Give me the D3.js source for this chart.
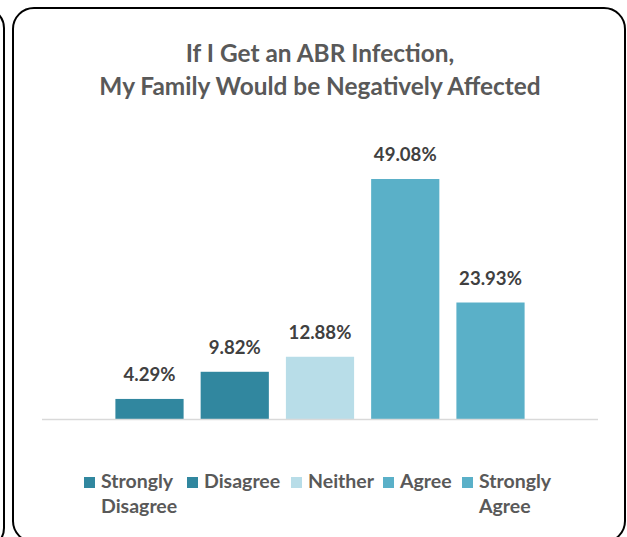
<!DOCTYPE html>
<html>
<head>
<meta charset="utf-8">
<script src="https://cdn.jsdelivr.net/npm/d3@7/dist/d3.min.js"></script>
<style>
  html, body { margin: 0; padding: 0; background: #ffffff; }
  svg { display: block; }
  text { font-family: Lato, "Carlito", "Liberation Sans", sans-serif; font-weight: 700; }
</style>
</head>
<body>
<script>
// Survey responses: "If I Get an ABR Infection, My Family Would be Negatively Affected"
const categories = ["Strongly Disagree", "Disagree", "Neither", "Agree", "Strongly Agree"];
const values = [4.29, 9.82, 12.88, 49.08, 23.93];
const legendLines = [["Strongly", "Disagree"], ["Disagree"], ["Neither"], ["Agree"], ["Strongly", "Agree"]];
const colors = ["#31879f", "#31879f", "#b8dde8", "#5ab0c8", "#5ab0c8"];
const titleLines = ["If I Get an ABR Infection,", "My Family Would be Negatively Affected"];

const W = 627, H = 537;
const svg = d3.select("body").append("svg").attr("width", W).attr("height", H);

// neighbouring panel edge on the left and this chart's rounded frame
svg.append("rect").attr("x", -600).attr("y", 8).attr("width", 604).attr("height", 540)
  .attr("rx", 20).attr("fill", "none").attr("stroke", "#000").attr("stroke-width", 2);
svg.append("rect").attr("x", 13).attr("y", 8).attr("width", 612).attr("height", 534)
  .attr("rx", 21).attr("fill", "#fff").attr("stroke", "#000").attr("stroke-width", 2);

// title
svg.append("g").selectAll("text").data(titleLines).join("text")
  .attr("x", 320).attr("y", (d, i) => 62 + i * 32.5)
  .attr("text-anchor", "middle").attr("fill", "#595959").attr("font-size", 24.4)
  .text(d => d);

// scales
const x = d3.scaleBand().domain(categories).range([42, 598])
  .paddingInner(0.2).paddingOuter(0.861);
const y = d3.scaleLinear().domain([0, 60]).range([420, 125.4]);

// bars
svg.append("g").selectAll("rect").data(values).join("rect")
  .attr("x", (d, i) => x(categories[i]))
  .attr("width", x.bandwidth())
  .attr("y", d => y(d))
  .attr("height", d => y(0) - y(d))
  .attr("fill", (d, i) => colors[i]);

// category axis line
const axis = d3.axisBottom(x).tickSize(0).tickFormat("");
const gx = svg.append("g").attr("transform", `translate(0,${y(0) - 0.5})`).call(axis);
gx.select(".domain").attr("stroke", "#d9d9d9").attr("stroke-width", 1.5)
  .attr("d", "M42,0H598");

// value labels
svg.append("g").selectAll("text").data(values).join("text")
  .attr("x", (d, i) => x(categories[i]) + x.bandwidth() / 2)
  .attr("y", d => y(d) - 18)
  .attr("text-anchor", "middle").attr("fill", "#404040").attr("font-size", 18.6)
  .text(d => d.toFixed(2) + "%");

// legend
const legendX = [84, 187, 291, 383, 462];
const lg = svg.append("g").selectAll("g").data(categories).join("g")
  .attr("transform", (d, i) => `translate(${legendX[i]},477)`);
lg.append("rect").attr("width", 11).attr("height", 11).attr("fill", (d, i) => colors[i]);
lg.append("text").attr("x", 17).attr("y", 11)
  .attr("fill", "#595959").attr("font-size", 19.5)
  .selectAll("tspan").data((d, i) => legendLines[i]).join("tspan")
  .attr("x", 17).attr("dy", (d, j) => j === 0 ? 0 : 25)
  .text(d => d);
</script>
</body>
</html>
